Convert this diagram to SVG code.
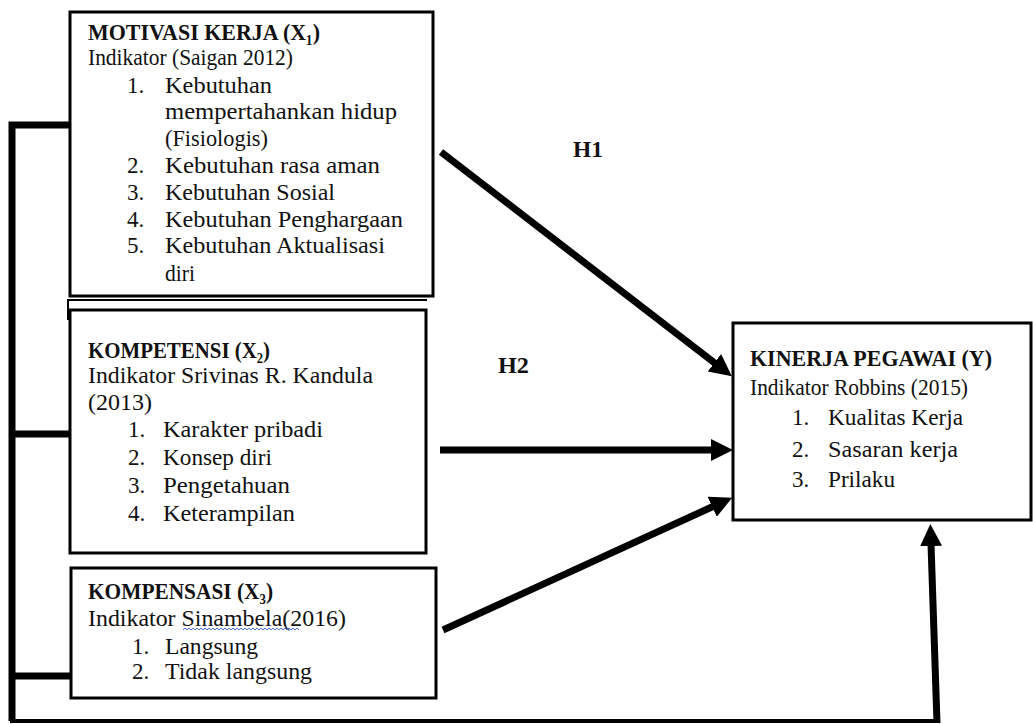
<svg xmlns="http://www.w3.org/2000/svg" width="1033" height="724" viewBox="0 0 1033 724">
<style>
.box{fill:#fff;stroke:#000;stroke-width:3}
text{font-family:"Liberation Serif","DejaVu Serif","Times New Roman",serif;font-size:23px;fill:#111}
.b{font-weight:bold}
.conn{stroke:#000;fill:none;stroke-width:7}
.arr{stroke:#000;fill:none;stroke-width:7;marker-end:url(#ah)}
</style>
<defs>
<marker id="ah" markerUnits="userSpaceOnUse" markerWidth="24" markerHeight="24" refX="2" refY="11" orient="auto">
<path d="M0,0 L22,11 L0,22 z" fill="#000"/>
</marker>
</defs>
<rect width="1033" height="724" fill="#fff"/>
<g id="connectors">
<polyline class="conn" points="70,125 12,125 12,721"/>
<line class="conn" x1="12" y1="434" x2="70" y2="434"/>
<line class="conn" x1="12" y1="676" x2="71" y2="676"/>
<line x1="10" y1="721" x2="939" y2="721" stroke="#000" stroke-width="4"/>
<line class="arr" x1="441" y1="152" x2="716" y2="364"/>
<line class="arr" x1="440" y1="450" x2="713" y2="450"/>
<line class="arr" x1="443" y1="630" x2="714" y2="506"/>
<line class="arr" x1="937" y1="723" x2="931" y2="544"/>
<polyline points="68,320 68,300 427,300" fill="none" stroke="#000" stroke-width="2"/>
</g>
<g id="labels">
<text class="b" x="573" y="157" textLength="30" lengthAdjust="spacingAndGlyphs">H1</text>
<text class="b" x="498" y="373" textLength="31" lengthAdjust="spacingAndGlyphs">H2</text>
</g>
<g id="motivasi">
<rect class="box" x="70" y="12" width="363" height="284"/>
<text class="b" x="88" y="40" textLength="232" lengthAdjust="spacingAndGlyphs">MOTIVASI KERJA (X₁)</text>
<text x="88" y="65" textLength="205" lengthAdjust="spacingAndGlyphs">Indikator (Saigan 2012)</text>
<text x="127" y="93">1.</text>
<text x="165" y="93" textLength="107" lengthAdjust="spacingAndGlyphs">Kebutuhan</text>
<text x="165" y="119" textLength="232" lengthAdjust="spacingAndGlyphs">mempertahankan hidup</text>
<text x="165" y="146" textLength="103" lengthAdjust="spacingAndGlyphs">(Fisiologis)</text>
<text x="127" y="173">2.</text>
<text x="165" y="173" textLength="215" lengthAdjust="spacingAndGlyphs">Kebutuhan rasa aman</text>
<text x="127" y="200">3.</text>
<text x="165" y="200" textLength="170" lengthAdjust="spacingAndGlyphs">Kebutuhan Sosial</text>
<text x="127" y="227">4.</text>
<text x="165" y="227" textLength="238" lengthAdjust="spacingAndGlyphs">Kebutuhan Penghargaan</text>
<text x="127" y="253">5.</text>
<text x="165" y="253" textLength="220" lengthAdjust="spacingAndGlyphs">Kebutuhan Aktualisasi</text>
<text x="165" y="281" textLength="30" lengthAdjust="spacingAndGlyphs">diri</text>
</g>
<g id="kompetensi">
<rect class="box" x="70" y="310" width="356" height="243"/>
<text class="b" x="88" y="358" textLength="182" lengthAdjust="spacingAndGlyphs">KOMPETENSI (X₂)</text>
<text x="88" y="383" textLength="285" lengthAdjust="spacingAndGlyphs">Indikator Srivinas R. Kandula</text>
<text x="88" y="410" textLength="64" lengthAdjust="spacingAndGlyphs">(2013)</text>
<text x="128" y="437">1.</text>
<text x="163" y="437" textLength="160" lengthAdjust="spacingAndGlyphs">Karakter pribadi</text>
<text x="128" y="465">2.</text>
<text x="163" y="465" textLength="109" lengthAdjust="spacingAndGlyphs">Konsep diri</text>
<text x="128" y="493">3.</text>
<text x="163" y="493" textLength="127" lengthAdjust="spacingAndGlyphs">Pengetahuan</text>
<text x="128" y="521">4.</text>
<text x="163" y="521" textLength="132" lengthAdjust="spacingAndGlyphs">Keterampilan</text>
</g>
<g id="kompensasi">
<rect class="box" x="71" y="568" width="365" height="130"/>
<text class="b" x="88" y="599" textLength="185" lengthAdjust="spacingAndGlyphs">KOMPENSASI (X₃)</text>
<text x="88" y="626" textLength="258" lengthAdjust="spacingAndGlyphs">Indikator Sinambela(2016)</text>
<path d="M183,630 l2,-2 l2,2 l2,-2 l2,2 l2,-2 l2,2 l2,-2 l2,2 l2,-2 l2,2 l2,-2 l2,2 l2,-2 l2,2 l2,-2 l2,2 l2,-2 l2,2 l2,-2 l2,2 l2,-2 l2,2 l2,-2 l2,2 l2,-2 l2,2 l2,-2 l2,2 l2,-2 l2,2 l2,-2 l2,2 l2,-2 l2,2 l2,-2 l2,2 l2,-2 l2,2 l2,-2 l2,2 l2,-2 l2,2 l2,-2 l2,2 l2,-2 l2,2 l2,-2 l2,2 l2,-2 l2,2 l2,-2 l2,2 l2,-2 l2,2 l2,-2 l2,2 l2,-2 l2,2" fill="none" stroke="#4a74d0" stroke-width="1"/>
<text x="132" y="654">1.</text>
<text x="165" y="654" textLength="93" lengthAdjust="spacingAndGlyphs">Langsung</text>
<text x="132" y="679">2.</text>
<text x="165" y="679" textLength="147" lengthAdjust="spacingAndGlyphs">Tidak langsung</text>
</g>
<g id="kinerja">
<rect class="box" x="733" y="323" width="298" height="197"/>
<text class="b" x="750" y="366" textLength="242" lengthAdjust="spacingAndGlyphs">KINERJA PEGAWAI (Y)</text>
<text x="750" y="395" textLength="218" lengthAdjust="spacingAndGlyphs">Indikator Robbins (2015)</text>
<text x="792" y="425">1.</text>
<text x="828" y="425" textLength="135" lengthAdjust="spacingAndGlyphs">Kualitas Kerja</text>
<text x="792" y="457">2.</text>
<text x="828" y="457" textLength="130" lengthAdjust="spacingAndGlyphs">Sasaran kerja</text>
<text x="792" y="487">3.</text>
<text x="828" y="487" textLength="67" lengthAdjust="spacingAndGlyphs">Prilaku</text>
</g>
</svg>
